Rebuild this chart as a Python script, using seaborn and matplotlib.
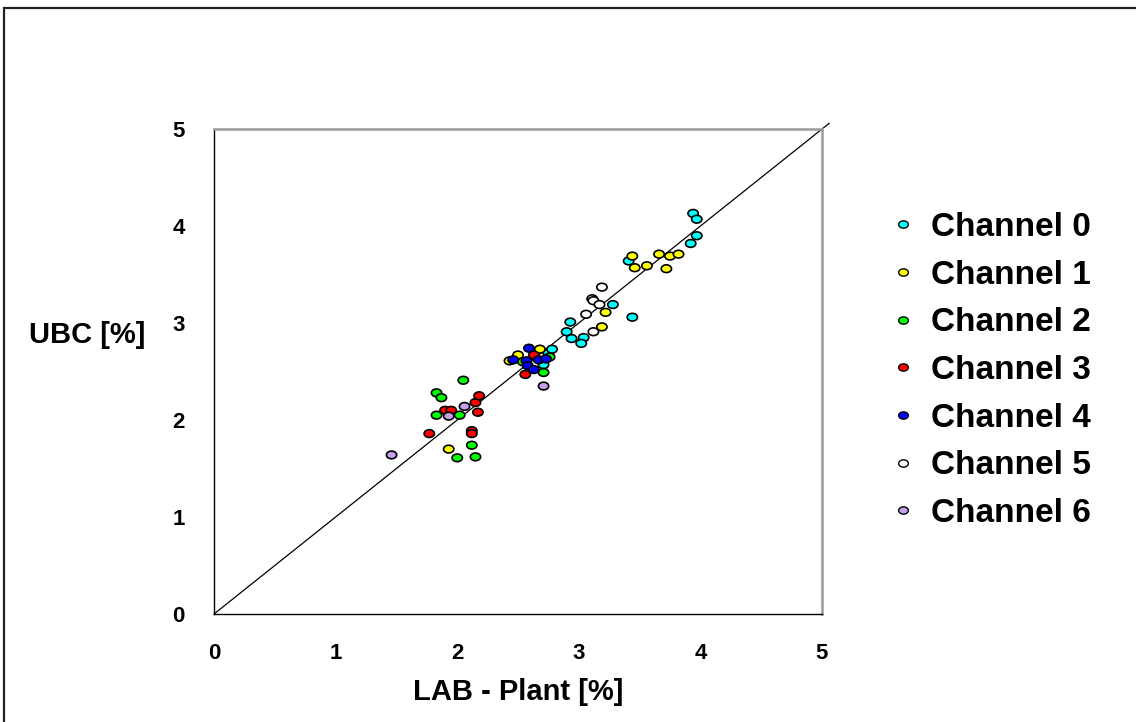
import numpy as np
import pandas as pd
import seaborn as sns
import matplotlib.pyplot as plt
from matplotlib.path import Path
from matplotlib.lines import Line2D
from matplotlib.patches import Rectangle

channels = ["Channel 0", "Channel 1", "Channel 2", "Channel 3", "Channel 4", "Channel 5", "Channel 6"]
colors = ["#00FFFF", "#FFFF00", "#00FF00", "#FF0000", "#0000FF", "#FFFFFF", "#C4A0EC"]

# LAB - Plant (x) and UBC (y) per channel
ch0_x = [2.71, 2.75, 2.78, 2.90, 2.93, 2.94, 3.04, 3.02, 3.28, 3.44, 3.41, 3.92, 3.97, 3.94, 3.97]
ch0_y = [2.57, 2.69, 2.73, 2.91, 3.01, 2.84, 2.85, 2.79, 3.19, 3.06, 3.64, 3.82, 3.90, 4.13, 4.07]
ch1_x = [1.93, 2.43, 2.50, 2.68, 3.19, 3.22, 3.44, 3.46, 3.56, 3.66, 3.75, 3.82, 3.72]
ch1_y = [1.70, 2.61, 2.67, 2.73, 2.96, 3.11, 3.69, 3.57, 3.59, 3.71, 3.69, 3.71, 3.56]
ch2_x = [1.83, 1.87, 2.05, 1.83, 2.02, 2.12, 2.00, 2.15, 2.71, 2.76, 2.54]
ch2_y = [2.28, 2.23, 2.41, 2.05, 2.05, 1.74, 1.61, 1.62, 2.49, 2.65, 2.60]
ch3_x = [1.77, 1.90, 1.95, 2.12, 2.12, 2.15, 2.17, 2.18, 2.56, 2.63]
ch3_y = [1.86, 2.10, 2.10, 1.89, 1.86, 2.18, 2.08, 2.25, 2.47, 2.67]
ch4_x = [2.46, 2.57, 2.58, 2.59, 2.63, 2.67, 2.73]
ch4_y = [2.62, 2.61, 2.56, 2.74, 2.52, 2.62, 2.63]
ch5_x = [3.06, 3.12, 3.11, 3.12, 3.17, 3.19]
ch5_y = [3.09, 2.91, 3.25, 3.23, 3.19, 3.37]
ch6_x = [1.46, 1.93, 2.06, 2.71]
ch6_y = [1.64, 2.04, 2.14, 2.35]

xs = [ch0_x, ch1_x, ch2_x, ch3_x, ch4_x, ch5_x, ch6_x]
ys = [ch0_y, ch1_y, ch2_y, ch3_y, ch4_y, ch5_y, ch6_y]
df = pd.concat([pd.DataFrame({"lab": x, "ubc": y, "channel": c})
                for c, x, y in zip(channels, xs, ys)], ignore_index=True)

sns.set_style("white")
plt.rcParams["font.family"] = ["Liberation Sans", "DejaVu Sans"]
plt.rcParams["font.weight"] = "bold"
plt.rcParams["text.color"] = "black"
plt.rcParams["axes.labelcolor"] = "black"
plt.rcParams["xtick.color"] = "black"
plt.rcParams["ytick.color"] = "black"

# flat ellipse marker like the original
circ = Path.unit_circle()
ellipse = Path(circ.vertices * np.array([1.0, 0.75]), circ.codes)

fig = plt.figure(figsize=(11.36, 7.22), dpi=100)
ax = fig.add_axes([0.1884, 0.1496, 0.5352, 0.6717])

ax.plot([0, 5.06], [0, 5.06], color="black", lw=0.9, clip_on=False, zorder=1)
sns.scatterplot(data=df, x="lab", y="ubc", hue="channel", hue_order=channels,
                palette=colors, marker=ellipse, s=55, edgecolor="black",
                linewidth=1.2, legend=False, ax=ax, zorder=3)

ax.set_xlim(0, 5)
ax.set_ylim(0, 5)
ax.set_xticks(range(6))
ax.set_yticks(range(6))
ax.tick_params(direction="out", length=7, width=1, color="black",
               labelsize=16, pad=14)
for lab in ax.get_xticklabels() + ax.get_yticklabels():
    lab.set_fontweight("bold")
for side in ["left", "bottom"]:
    ax.spines[side].set_color("black")
    ax.spines[side].set_linewidth(1)
for side in ["top", "right"]:
    ax.spines[side].set_visible(True)
    ax.spines[side].set_color("#9a9a9a")
    ax.spines[side].set_linewidth(1.8)

ax.set_xlabel("LAB - Plant [%]", fontsize=21, fontweight="bold", labelpad=10)
ax.set_ylabel("UBC [%]", fontsize=21, fontweight="bold", rotation=0,
              ha="center", va="center")
ax.yaxis.set_label_coords(-0.208, 0.575)

handles = [Line2D([], [], ls="", marker=ellipse, markersize=7,
                  markerfacecolor=c, markeredgecolor="black", markeredgewidth=1)
           for c in colors]
fig.legend(handles, channels, loc="upper left", bbox_to_anchor=(0.771, 0.725),
           frameon=False, prop={"size": 24, "weight": "bold"},
           handletextpad=0.45, handlelength=0.8, labelspacing=0.5,
           borderaxespad=0)

# outer frame of the original export
fig.add_artist(Rectangle((4 / 1136, -0.1), 1.2, 1.1 - 7.5 / 722,
                         transform=fig.transFigure, fill=False,
                         edgecolor="#222222", lw=1.6))

fig.savefig("out.png", dpi=100, facecolor="white")
